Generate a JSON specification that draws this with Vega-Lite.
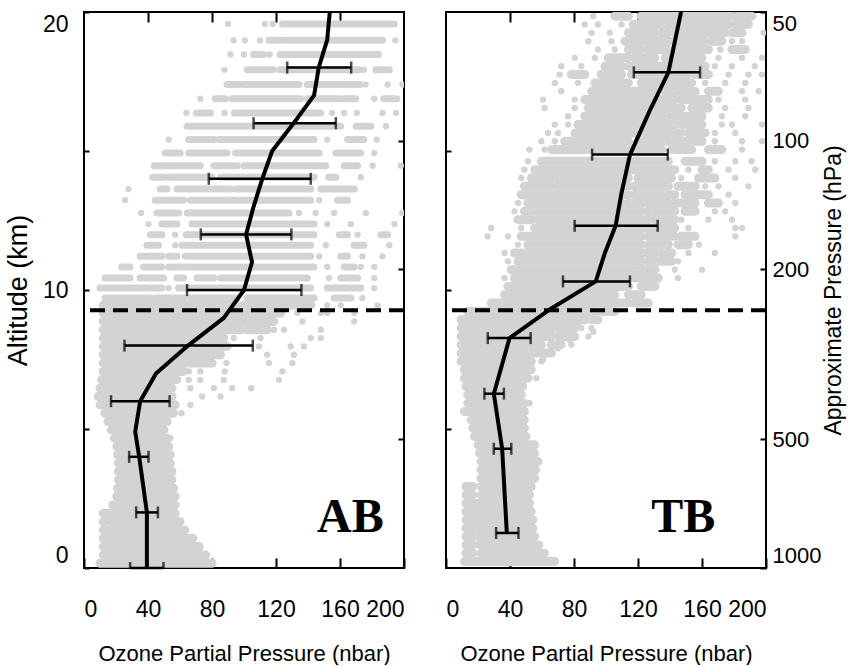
{
"$schema": "https://vega.github.io/schema/vega-lite/v6.json",
"padding": {"left": 3, "top": 8, "right": 0, "bottom": 0},
"background": "white",
"bounds": "flush",
"spacing": 42,
"config": {
  "view": {"stroke": "black", "strokeWidth": 2},
  "axis": {"domain": false, "grid": false, "tickColor": "black", "tickWidth": 2, "labelColor": "black", "titleColor": "black", "titleFontWeight": "normal", "labelFont": "Liberation Sans, Arial", "titleFont": "Liberation Sans, Arial", "labelFontSize": 23, "titleFontSize": 22, "labelOverlap": false}
},
"datasets": {
"abRows": [
{"z":19.57,"a":124,"b":194},
{"z":18.98,"a":115.6,"b":122.9},{"z":18.98,"a":125.4,"b":186.6},
{"z":18.47,"a":106,"b":112.4},{"z":18.47,"a":122.5,"b":184},
{"z":17.92,"a":102,"b":118.3},{"z":17.92,"a":122.5,"b":172},{"z":17.92,"a":182.4,"b":190.8},
{"z":17.39,"a":89.4,"b":97.4},{"z":17.39,"a":99.9,"b":134.4},{"z":17.39,"a":139.6,"b":172.6},
{"z":16.88,"a":82.1,"b":88.4},{"z":16.88,"a":92.6,"b":135.4},{"z":16.88,"a":139.6,"b":159.5},{"z":16.88,"a":162.6,"b":169.9},{"z":16.88,"a":187.3,"b":195.6},
{"z":16.37,"a":70.2,"b":79},{"z":16.37,"a":94,"b":148},
{"z":15.89,"a":64.4,"b":160.5},{"z":15.89,"a":170,"b":179.3},
{"z":15.41,"a":65.4,"b":81.1},{"z":15.41,"a":84.2,"b":143.8},{"z":15.41,"a":164.7,"b":175},
{"z":14.93,"a":50.8,"b":60.2},{"z":14.93,"a":65.4,"b":89.4},{"z":14.93,"a":94.7,"b":147},{"z":14.93,"a":157.4,"b":173},
{"z":14.47,"a":43.9,"b":72.7},{"z":14.47,"a":81.1,"b":95.7},{"z":14.47,"a":99.9,"b":120.8},{"z":14.47,"a":122.9,"b":151.1},{"z":14.47,"a":162.6,"b":171},
{"z":14.06,"a":43,"b":50.8},{"z":14.06,"a":53.9,"b":80},{"z":14.06,"a":85.3,"b":143.8},{"z":14.06,"a":153,"b":157.4},
{"z":13.63,"a":47.6,"b":51.8},{"z":13.63,"a":58.1,"b":91.5},{"z":13.63,"a":94.7,"b":141.7},{"z":13.63,"a":148,"b":168.9},
{"z":13.23,"a":44.5,"b":62.3},{"z":13.23,"a":66.5,"b":141.7},{"z":13.23,"a":158.4,"b":164.7},
{"z":12.77,"a":45.6,"b":59.1},{"z":12.77,"a":64.4,"b":128.1},
{"z":12.37,"a":48.7,"b":58.1},{"z":12.37,"a":67.5,"b":143.8},
{"z":11.99,"a":41.4,"b":48.7},{"z":11.99,"a":64,"b":143.8},{"z":11.99,"a":159.5,"b":164.7},{"z":11.99,"a":185.6,"b":189.8},
{"z":11.61,"a":39.3,"b":46.6},{"z":11.61,"a":61.2,"b":141.7},{"z":11.61,"a":168.9,"b":175},
{"z":11.21,"a":35.1,"b":48.7},{"z":11.21,"a":52.9,"b":58.1},{"z":11.21,"a":63.3,"b":141.7},{"z":11.21,"a":160.5,"b":164.7},
{"z":10.83,"a":23.6,"b":28.8},{"z":10.83,"a":37.2,"b":48.7},{"z":10.83,"a":52.9,"b":62.3},{"z":10.83,"a":64.4,"b":143.8},{"z":10.83,"a":162.6,"b":168.9},
{"z":10.43,"a":13.2,"b":28.8},{"z":10.43,"a":35.1,"b":49.7},{"z":10.43,"a":58.1,"b":62.3},{"z":10.43,"a":70.6,"b":81.1},{"z":10.43,"a":85.3,"b":139.6},{"z":10.43,"a":160.5,"b":171},
{"z":10.07,"a":10,"b":39.3},{"z":10.07,"a":42.4,"b":48.7},{"z":10.07,"a":59.1,"b":66.5},{"z":10.07,"a":68.5,"b":141.7},{"z":10.07,"a":152.1,"b":164.7},{"z":10.07,"a":167.8,"b":173},
{"z":9.71,"a":13.2,"b":41.4},{"z":9.71,"a":44.5,"b":62.3},{"z":9.71,"a":66.5,"b":95.7},{"z":9.71,"a":102,"b":143.8},{"z":9.71,"a":156.3,"b":166.8}
],
"abBand": [
{"z":9.45,"a":12,"b":95.7},{"z":9.45,"a":99.9,"b":141.7},
{"z":9.17,"a":12,"b":122.9},
{"z":8.87,"a":12,"b":118.7},
{"z":8.57,"a":12,"b":97.8},{"z":8.57,"a":102,"b":114.5},
{"z":8.27,"a":12,"b":87.4},
{"z":7.97,"a":12,"b":89.4},
{"z":7.67,"a":12,"b":85.3},
{"z":7.37,"a":12,"b":80},
{"z":7.07,"a":12,"b":62},
{"z":6.77,"a":11,"b":58},
{"z":6.47,"a":10,"b":55},
{"z":6.17,"a":9,"b":55},
{"z":5.87,"a":10,"b":57},
{"z":5.57,"a":13,"b":56},
{"z":5.27,"a":15,"b":52},
{"z":4.97,"a":17,"b":50},
{"z":4.67,"a":19,"b":52},
{"z":4.37,"a":20.5,"b":53},
{"z":4.07,"a":21,"b":54},
{"z":3.77,"a":21.5,"b":54},
{"z":3.47,"a":21.5,"b":55},
{"z":3.17,"a":21.5,"b":55},
{"z":2.87,"a":21,"b":56},
{"z":2.57,"a":20.5,"b":57},
{"z":2.27,"a":18,"b":57},
{"z":1.97,"a":12,"b":14},{"z":1.97,"a":16.3,"b":57},
{"z":1.67,"a":12,"b":14},{"z":1.67,"a":17,"b":60},
{"z":1.37,"a":12,"b":14},{"z":1.37,"a":17,"b":63},
{"z":1.07,"a":12,"b":14},{"z":1.07,"a":16.5,"b":68},
{"z":0.77,"a":12,"b":14},{"z":0.77,"a":16,"b":72},
{"z":0.47,"a":12,"b":14},{"z":0.47,"a":16,"b":76},
{"z":0.17,"a":10,"b":80}
],
"abDots": [
{"z":19.57,"x":90},{"z":19.57,"x":113},{"z":19.57,"x":118},
{"z":18.98,"x":93.6},{"z":18.98,"x":100.5},{"z":18.98,"x":110},{"z":18.98,"x":194.6},
{"z":18.47,"x":91.5},{"z":18.47,"x":99.9},{"z":18.47,"x":116},
{"z":17.92,"x":87.8},{"z":17.92,"x":175},
{"z":17.39,"x":176},{"z":17.39,"x":189.8},{"z":17.39,"x":199},
{"z":16.88,"x":72.7},{"z":16.88,"x":181.4},
{"z":16.37,"x":64},{"z":16.37,"x":87.8},{"z":16.37,"x":155},{"z":16.37,"x":162.6},{"z":16.37,"x":170.5},{"z":16.37,"x":186.6},{"z":16.37,"x":195},
{"z":15.89,"x":188.7},
{"z":15.41,"x":52.9},{"z":15.41,"x":152},{"z":15.41,"x":183},
{"z":14.93,"x":181.4},
{"z":14.47,"x":180.4},{"z":14.47,"x":198},
{"z":14.06,"x":173},
{"z":13.63,"x":27.8},
{"z":13.23,"x":25.7},{"z":13.23,"x":147},
{"z":12.77,"x":35.7},{"z":12.77,"x":134.4},{"z":12.77,"x":144.8},{"z":12.77,"x":156.3},{"z":12.77,"x":176.2},{"z":12.77,"x":199},
{"z":12.37,"x":40.3},{"z":12.37,"x":152.1},{"z":12.37,"x":166.8},{"z":12.37,"x":194},
{"z":11.99,"x":57},{"z":11.99,"x":171},
{"z":11.61,"x":57},{"z":11.61,"x":151.1},{"z":11.61,"x":190.8},
{"z":11.21,"x":147},{"z":11.21,"x":174},{"z":11.21,"x":186.6},
{"z":10.83,"x":152},{"z":10.83,"x":173},{"z":10.83,"x":181.4},
{"z":10.43,"x":153.2},{"z":10.43,"x":181.4},
{"z":10.07,"x":52.9},{"z":10.07,"x":181.4},
{"z":9.71,"x":174},
{"z":9.45,"x":152},{"z":9.45,"x":160.5},{"z":9.45,"x":183.5},
{"z":9.17,"x":133.3},{"z":9.17,"x":148},{"z":9.17,"x":152},{"z":9.17,"x":169},
{"z":8.87,"x":136.5},{"z":8.87,"x":168.9},
{"z":8.57,"x":118.7},{"z":8.57,"x":125},{"z":8.57,"x":148},
{"z":8.27,"x":93.6},{"z":8.27,"x":110.3},{"z":8.27,"x":141.7},{"z":8.27,"x":148},
{"z":7.97,"x":109.3},{"z":7.97,"x":129.2},{"z":7.97,"x":137.5},
{"z":7.67,"x":114.5},{"z":7.67,"x":131.2},
{"z":7.37,"x":89},{"z":7.37,"x":115.6},{"z":7.37,"x":130.2},
{"z":7.07,"x":65.5},{"z":7.07,"x":72.7},{"z":7.07,"x":88},{"z":7.07,"x":124},
{"z":6.77,"x":65.4},{"z":6.77,"x":72.7},{"z":6.77,"x":87.4},{"z":6.77,"x":121.8},
{"z":6.47,"x":66.5},{"z":6.47,"x":81.1},{"z":6.47,"x":92.6},{"z":6.47,"x":104.5},
{"z":6.17,"x":73.8},{"z":6.17,"x":85.3},
{"z":5.87,"x":66.5},
{"z":5.57,"x":61},
{"z":4.67,"x":54}
],
"abMean": [
{"z":0,"x":39.3},{"z":2,"x":39.3},{"z":4,"x":34.5},{"z":4.9,"x":32},{"z":6,"x":35.1},{"z":7,"x":45},{"z":7.5,"x":55},{"z":8,"x":65},{"z":9,"x":87.4},{"z":10,"x":100},{"z":11,"x":105},{"z":12,"x":101.3},{"z":13,"x":106},{"z":14,"x":111.4},{"z":15,"x":117.6},{"z":16,"x":131},{"z":17,"x":143.8},{"z":18,"x":146.7},{"z":19,"x":152},{"z":20,"x":153.6}
],
"abErr": [
{"z":0,"lo":28.8,"hi":49.7},{"z":2,"lo":32.6,"hi":46.2},{"z":4,"lo":28.2,"hi":40.3},{"z":6,"lo":16.9,"hi":53.5},{"z":8,"lo":25.3,"hi":105.5},{"z":10,"lo":64.4,"hi":135.9},{"z":12,"lo":73,"hi":129.6},{"z":14,"lo":78,"hi":141.7},{"z":16,"lo":106,"hi":157.4},{"z":18,"lo":127,"hi":167}
],
"tbBand": [
{"z":19.85,"a":105.5,"b":114},{"z":19.85,"a":122,"b":178.7},{"z":19.85,"a":182,"b":191},
{"z":19.55,"a":117,"b":143},{"z":19.55,"a":147,"b":176.6},{"z":19.55,"a":180.8,"b":189},
{"z":19.25,"a":114,"b":130.6},{"z":19.25,"a":134.8,"b":139},{"z":19.25,"a":143,"b":174.5},{"z":19.25,"a":178.7,"b":185},
{"z":18.95,"a":111.8,"b":139},{"z":18.95,"a":142,"b":162},{"z":18.95,"a":166,"b":172.4},
{"z":18.65,"a":114,"b":122},{"z":18.65,"a":126.4,"b":139},{"z":18.65,"a":143,"b":164},{"z":18.65,"a":178.7,"b":187},
{"z":18.35,"a":101.4,"b":114},{"z":18.35,"a":118,"b":130.6},{"z":18.35,"a":137,"b":160},
{"z":18.05,"a":99.3,"b":109.7},{"z":18.05,"a":114,"b":139},{"z":18.05,"a":143,"b":162},
{"z":17.75,"a":78.4,"b":86.7},{"z":17.75,"a":97,"b":109.7},{"z":17.75,"a":116,"b":151.5},{"z":17.75,"a":155.7,"b":164},
{"z":17.45,"a":93,"b":114},{"z":17.45,"a":122,"b":130.6},{"z":17.45,"a":132.7,"b":153.6},
{"z":17.15,"a":91,"b":105.5},{"z":17.15,"a":107.6,"b":130.6},{"z":17.15,"a":137,"b":155.7},{"z":17.15,"a":164,"b":170.3},
{"z":16.85,"a":86.7,"b":95},{"z":16.85,"a":97,"b":143},{"z":16.85,"a":147,"b":164},
{"z":16.55,"a":88.8,"b":95},{"z":16.55,"a":97,"b":126.4},{"z":16.55,"a":130.6,"b":147},{"z":16.55,"a":153.6,"b":164},
{"z":16.25,"a":86.7,"b":139},{"z":16.25,"a":143,"b":160},
{"z":15.95,"a":82.5,"b":120},{"z":15.95,"a":122,"b":143},{"z":15.95,"a":147,"b":160},
{"z":15.65,"a":80.5,"b":118},{"z":15.65,"a":122,"b":147},{"z":15.65,"a":151.5,"b":162},
{"z":15.35,"a":74.2,"b":114},{"z":15.35,"a":120,"b":139},{"z":15.35,"a":143,"b":160},
{"z":15.05,"a":66,"b":111.8},{"z":15.05,"a":116,"b":134.8},{"z":15.05,"a":141,"b":153.6},{"z":15.05,"a":164,"b":172.4},
{"z":14.63,"a":59.6,"b":114},{"z":14.63,"a":118,"b":139},{"z":14.63,"a":149.4,"b":160},
{"z":14.33,"a":55.4,"b":111.8},{"z":14.33,"a":114,"b":143},{"z":14.33,"a":160,"b":164},
{"z":14.03,"a":53.3,"b":114},{"z":14.03,"a":120,"b":141},{"z":14.03,"a":157.8,"b":168},
{"z":13.73,"a":49,"b":65.8},{"z":13.73,"a":70,"b":114},{"z":13.73,"a":118,"b":139},{"z":13.73,"a":145,"b":155.7},
{"z":13.43,"a":47,"b":57.5},{"z":13.43,"a":59.6,"b":114},{"z":13.43,"a":118,"b":143},{"z":13.43,"a":149.4,"b":164},
{"z":13.13,"a":51.2,"b":109.7},{"z":13.13,"a":114,"b":139},{"z":13.13,"a":143,"b":155.7},{"z":13.13,"a":164,"b":170.3},
{"z":12.83,"a":49,"b":122},{"z":12.83,"a":126.4,"b":143},{"z":12.83,"a":149.4,"b":155.7},
{"z":12.53,"a":45,"b":53.3},{"z":12.53,"a":57.5,"b":126.4},{"z":12.53,"a":130.6,"b":143},
{"z":12.23,"a":55.4,"b":130.6},{"z":12.23,"a":134.8,"b":143},
{"z":11.93,"a":47,"b":122},{"z":11.93,"a":126.4,"b":143},{"z":11.93,"a":147,"b":155.7},
{"z":11.63,"a":51.2,"b":122},{"z":11.63,"a":126.4,"b":139},{"z":11.63,"a":145,"b":151.5},
{"z":11.33,"a":42.8,"b":130.6},{"z":11.33,"a":134.8,"b":141},
{"z":11.03,"a":45,"b":122},{"z":11.03,"a":126.4,"b":141},
{"z":10.73,"a":40.7,"b":118},{"z":10.73,"a":122,"b":130.6},
{"z":10.43,"a":42.8,"b":114},{"z":10.43,"a":118,"b":132.7},
{"z":10.13,"a":38.7,"b":114},{"z":10.13,"a":122,"b":130.6},
{"z":9.83,"a":36.6,"b":105.5},{"z":9.83,"a":114,"b":122},
{"z":9.53,"a":28.2,"b":114},{"z":9.53,"a":118,"b":126.4},
{"z":9.23,"a":13.6,"b":93},{"z":9.23,"a":97,"b":105.5},
{"z":8.93,"a":9.4,"b":86.7},{"z":8.93,"a":91,"b":95},
{"z":8.63,"a":9.4,"b":80.5},
{"z":8.33,"a":9.4,"b":65.8},{"z":8.33,"a":70,"b":80.5},
{"z":8.03,"a":9.4,"b":59.6},{"z":8.03,"a":65.8,"b":72},
{"z":7.73,"a":9.4,"b":57.5},{"z":7.73,"a":59.6,"b":65.8},
{"z":7.43,"a":9.4,"b":53.3},
{"z":7.13,"a":11.5,"b":53.3},
{"z":6.83,"a":11.5,"b":51.2},
{"z":6.53,"a":12.5,"b":48},
{"z":6.23,"a":13.6,"b":47},
{"z":5.93,"a":13.6,"b":49},
{"z":5.63,"a":11.5,"b":49},
{"z":5.33,"a":15.7,"b":49},
{"z":5.03,"a":16.7,"b":49},
{"z":4.73,"a":17.8,"b":50},
{"z":4.43,"a":20,"b":55.4},
{"z":4.13,"a":20.9,"b":55.4},
{"z":3.83,"a":21.9,"b":57.5},
{"z":3.53,"a":21.9,"b":56},
{"z":3.23,"a":21.9,"b":55.4},
{"z":2.93,"a":12.5,"b":16.7},{"z":2.93,"a":21.9,"b":53.3},
{"z":2.63,"a":12.5,"b":16.7},{"z":2.63,"a":21.9,"b":52.2},
{"z":2.33,"a":12.5,"b":16.7},{"z":2.33,"a":19.9,"b":52.2},
{"z":2.03,"a":12.5,"b":16.7},{"z":2.03,"a":18.8,"b":53.3},
{"z":1.73,"a":12.5,"b":16.7},{"z":1.73,"a":18.8,"b":54.3},
{"z":1.43,"a":12.5,"b":16.7},{"z":1.43,"a":18.8,"b":54.3},
{"z":1.13,"a":12.5,"b":16.7},{"z":1.13,"a":20,"b":55.4},
{"z":0.83,"a":12.5,"b":16.7},{"z":0.83,"a":21,"b":58},
{"z":0.53,"a":12.5,"b":16.7},{"z":0.53,"a":21.9,"b":61.6},
{"z":0.23,"a":11.5,"b":67.9}
],
"tbDots": [
{"z":19.85,"x":92},
{"z":19.55,"x":86.7},{"z":19.55,"x":95},{"z":19.55,"x":109.7},
{"z":19.25,"x":91},{"z":19.25,"x":102.4},{"z":19.25,"x":198.5},
{"z":18.95,"x":89},{"z":18.95,"x":103.4},{"z":18.95,"x":178.7},{"z":18.95,"x":185},
{"z":18.65,"x":95},{"z":18.65,"x":105.5},{"z":18.65,"x":171.4},
{"z":18.35,"x":80.5},{"z":18.35,"x":93},{"z":18.35,"x":170.3},{"z":18.35,"x":185},{"z":18.35,"x":197.5},
{"z":18.05,"x":72},{"z":18.05,"x":84.6},{"z":18.05,"x":168},{"z":18.05,"x":178.7},{"z":18.05,"x":193},
{"z":17.75,"x":71},{"z":17.75,"x":176.6},{"z":17.75,"x":189},{"z":17.75,"x":197.5},
{"z":17.45,"x":68},{"z":17.45,"x":82.5},{"z":17.45,"x":162},{"z":17.45,"x":174.5},{"z":17.45,"x":187},
{"z":17.15,"x":72},{"z":17.15,"x":185},{"z":17.15,"x":195.4},
{"z":16.85,"x":60.6},{"z":16.85,"x":80.5},{"z":16.85,"x":170.3},{"z":16.85,"x":187},
{"z":16.55,"x":61.6},{"z":16.55,"x":80.5},{"z":16.55,"x":174.5},{"z":16.55,"x":189},
{"z":16.25,"x":76.3},{"z":16.25,"x":172.4},{"z":16.25,"x":187},
{"z":15.95,"x":68},{"z":15.95,"x":76.3},{"z":15.95,"x":172.4},{"z":15.95,"x":178.7},{"z":15.95,"x":197.5},
{"z":15.65,"x":63.7},{"z":15.65,"x":70},{"z":15.65,"x":168},{"z":15.65,"x":180.8},
{"z":15.35,"x":59.6},{"z":15.35,"x":68},{"z":15.35,"x":168},{"z":15.35,"x":185},{"z":15.35,"x":197.5},
{"z":15.05,"x":52.2},{"z":15.05,"x":61.6},{"z":15.05,"x":185},
{"z":14.63,"x":51.2},{"z":14.63,"x":168},{"z":14.63,"x":180.8},{"z":14.63,"x":191},
{"z":14.33,"x":49},{"z":14.33,"x":151.5},{"z":14.33,"x":176.6},{"z":14.33,"x":193.3},
{"z":14.03,"x":47},{"z":14.03,"x":147},{"z":14.03,"x":180.8},
{"z":13.73,"x":162},{"z":13.73,"x":170.3},{"z":13.73,"x":189},
{"z":13.43,"x":176.6},
{"z":13.13,"x":45},{"z":13.13,"x":180.8},
{"z":12.83,"x":42.8},{"z":12.83,"x":168},{"z":12.83,"x":174.5},
{"z":12.53,"x":147},{"z":12.53,"x":164},{"z":12.53,"x":178.7},
{"z":12.23,"x":28.2},{"z":12.23,"x":47},{"z":12.23,"x":151.5},{"z":12.23,"x":180.8},{"z":12.23,"x":185},
{"z":11.93,"x":26},{"z":11.93,"x":38.7},{"z":11.93,"x":180.8},
{"z":11.63,"x":45},{"z":11.63,"x":158},
{"z":11.33,"x":36.6},{"z":11.33,"x":151.5},{"z":11.33,"x":168},
{"z":11.03,"x":38.7},{"z":11.03,"x":145},
{"z":10.73,"x":143},{"z":10.73,"x":160},
{"z":10.43,"x":36.6},{"z":10.43,"x":145},
{"z":8.75,"x":82.5},
{"z":8.63,"x":84.6},{"z":8.63,"x":91},
{"z":8.5,"x":65.8},{"z":8.5,"x":92},
{"z":8.33,"x":89},
{"z":8.2,"x":77.3},
{"z":8.03,"x":78.4},
{"z":7.9,"x":70},
{"z":7.5,"x":60.6},
{"z":7.43,"x":59.6},
{"z":6.83,"x":56.4},
{"z":5.93,"x":52.2}
],
"tbMean": [
{"z":1.26,"x":38},{"z":4.29,"x":35.1},{"z":6.27,"x":29.9},{"z":8.27,"x":39.7},{"z":9.27,"x":64},{"z":10.31,"x":93.6},{"z":11.33,"x":99.3},{"z":12.31,"x":106},{"z":13.49,"x":109.7},{"z":14.87,"x":115},{"z":16.47,"x":127.5},{"z":17.83,"x":139},{"z":20,"x":146.9}
],
"tbErr": [
{"z":1.26,"lo":31.3,"hi":45.3},{"z":4.29,"lo":29.9,"hi":40.8},{"z":6.27,"lo":24,"hi":36.2},{"z":8.27,"lo":26.1,"hi":52.9},{"z":10.31,"lo":73.1,"hi":115},{"z":12.31,"lo":80.4,"hi":132.3},{"z":14.87,"lo":91.3,"hi":138.6},{"z":17.83,"lo":117.4,"hi":158.8}
]
},
"hconcat": [
  {
    "width": 320, "height": 556,
    "resolve": {"scale": {"y": "independent"}, "axis": {"x": "independent", "y": "independent"}},
    "layer": [
      {"data": {"name": "abBand"}, "mark": {"type": "rule", "color": "#d3d3d3", "strokeWidth": 9, "strokeCap": "round", "clip": true},
       "encoding": {
         "x": {"field": "a", "type": "quantitative", "scale": {"domain": [0, 200], "nice": false},
               "axis": {"orient": "bottom", "values": [0, 40, 80, 120, 160, 200], "tickSize": -10, "labelPadding": 40, "title": "Ozone Partial Pressure (nbar)", "titlePadding": 22}},
         "x2": {"field": "b"},
         "y": {"field": "z", "type": "quantitative", "scale": {"domain": [0, 20], "nice": false},
               "axis": {"orient": "left", "values": [0, 5, 10, 15, 20], "tickSize": -5, "labelPadding": 21, "labelFlush": true, "labelFlushOffset": -1, "labelExpr": "datum.value % 10 === 0 ? datum.label : ''", "title": "Altitude (km)", "titleFontSize": 27, "titlePadding": 10}}
       }},
      {"data": {"name": "abRows"}, "mark": {"type": "rule", "color": "#d3d3d3", "strokeWidth": 7, "strokeCap": "round", "clip": true},
       "encoding": {
         "x": {"field": "a", "type": "quantitative", "scale": {"domain": [0, 200], "nice": false}, "axis": null},
         "x2": {"field": "b"},
         "y": {"field": "z", "type": "quantitative", "scale": {"domain": [0, 20], "nice": false}, "axis": null}
       }},
      {"data": {"name": "abDots"}, "mark": {"type": "point", "filled": true, "color": "#d3d3d3", "opacity": 1, "size": 40, "clip": true},
       "encoding": {
         "x": {"field": "x", "type": "quantitative", "scale": {"domain": [0, 200], "nice": false}, "axis": null},
         "y": {"field": "z", "type": "quantitative", "scale": {"domain": [0, 20], "nice": false}, "axis": null}
       }},
      {"data": {"values": [{}]}, "mark": {"type": "rule", "color": "black", "strokeWidth": 4, "strokeDash": [15, 8]},
       "encoding": {"y": {"datum": 9.27, "type": "quantitative", "scale": {"domain": [0, 20], "nice": false}, "axis": null}}},
      {"data": {"name": "abErr"}, "mark": {"type": "rule", "color": "black", "strokeWidth": 2.5},
       "encoding": {
         "x": {"field": "lo", "type": "quantitative", "scale": {"domain": [0, 200], "nice": false}, "axis": null},
         "x2": {"field": "hi"},
         "y": {"field": "z", "type": "quantitative", "scale": {"domain": [0, 20], "nice": false}, "axis": null}
       }},
      {"data": {"name": "abErr"}, "mark": {"type": "tick", "orient": "vertical", "color": "black", "size": 12, "thickness": 2.5, "clip": true},
       "encoding": {
         "x": {"field": "lo", "type": "quantitative", "scale": {"domain": [0, 200], "nice": false}, "axis": null},
         "y": {"field": "z", "type": "quantitative", "scale": {"domain": [0, 20], "nice": false}, "axis": null}
       }},
      {"data": {"name": "abErr"}, "mark": {"type": "tick", "orient": "vertical", "color": "black", "size": 12, "thickness": 2.5, "clip": true},
       "encoding": {
         "x": {"field": "hi", "type": "quantitative", "scale": {"domain": [0, 200], "nice": false}, "axis": null},
         "y": {"field": "z", "type": "quantitative", "scale": {"domain": [0, 20], "nice": false}, "axis": null}
       }},
      {"data": {"name": "abMean"}, "mark": {"type": "line", "color": "black", "strokeWidth": 4, "strokeJoin": "round", "clip": true},
       "encoding": {
         "x": {"field": "x", "type": "quantitative", "scale": {"domain": [0, 200], "nice": false}, "axis": null},
         "y": {"field": "z", "type": "quantitative", "scale": {"domain": [0, 20], "nice": false}, "axis": null},
         "order": {"field": "z", "type": "quantitative"}
       }},
      {"data": {"values": [{"label": "AB"}]}, "mark": {"type": "text", "font": "Liberation Serif, Times New Roman", "fontWeight": "bold", "fontSize": 48, "align": "center", "baseline": "alphabetic", "color": "black"},
       "encoding": {
         "x": {"datum": 166.5, "type": "quantitative", "scale": {"domain": [0, 200], "nice": false}, "axis": null},
         "y": {"datum": 1.3, "type": "quantitative", "scale": {"domain": [0, 20], "nice": false}, "axis": null},
         "text": {"field": "label"}
       }},
      {"data": {"values": [{"p": 50}, {"p": 1000}]}, "mark": {"type": "point", "opacity": 0},
       "encoding": {
         "x": {"datum": 100, "type": "quantitative", "scale": {"domain": [0, 200], "nice": false},
               "axis": {"orient": "top", "values": [40, 80, 120, 160], "tickSize": -10, "labels": false, "title": null}},
         "y": {"field": "p", "type": "quantitative", "scale": {"type": "log", "domain": [50, 1000], "reverse": true, "nice": false},
               "axis": {"orient": "right", "values": [100, 200, 500], "tickSize": -6, "labels": false, "title": null}}
       }}
    ]
  },
  {
    "width": 320, "height": 556,
    "resolve": {"scale": {"y": "independent"}, "axis": {"x": "independent", "y": "independent"}},
    "layer": [
      {"data": {"name": "tbBand"}, "mark": {"type": "rule", "color": "#d3d3d3", "strokeWidth": 9, "strokeCap": "round", "clip": true},
       "encoding": {
         "x": {"field": "a", "type": "quantitative", "scale": {"domain": [0, 200], "nice": false},
               "axis": {"orient": "bottom", "values": [0, 40, 80, 120, 160, 200], "tickSize": -10, "labelPadding": 40, "title": "Ozone Partial Pressure (nbar)", "titlePadding": 22}},
         "x2": {"field": "b"},
         "y": {"field": "z", "type": "quantitative", "scale": {"domain": [0, 20], "nice": false},
               "axis": {"orient": "left", "values": [5, 10, 15], "tickSize": -5, "labels": false, "title": null}}
       }},
      {"data": {"name": "tbDots"}, "mark": {"type": "point", "filled": true, "color": "#d3d3d3", "opacity": 1, "size": 40, "clip": true},
       "encoding": {
         "x": {"field": "x", "type": "quantitative", "scale": {"domain": [0, 200], "nice": false}, "axis": null},
         "y": {"field": "z", "type": "quantitative", "scale": {"domain": [0, 20], "nice": false}, "axis": null}
       }},
      {"data": {"values": [{}]}, "mark": {"type": "rule", "color": "black", "strokeWidth": 4, "strokeDash": [15, 8]},
       "encoding": {"y": {"datum": 9.27, "type": "quantitative", "scale": {"domain": [0, 20], "nice": false}, "axis": null}}},
      {"data": {"name": "tbErr"}, "mark": {"type": "rule", "color": "black", "strokeWidth": 2.5},
       "encoding": {
         "x": {"field": "lo", "type": "quantitative", "scale": {"domain": [0, 200], "nice": false}, "axis": null},
         "x2": {"field": "hi"},
         "y": {"field": "z", "type": "quantitative", "scale": {"domain": [0, 20], "nice": false}, "axis": null}
       }},
      {"data": {"name": "tbErr"}, "mark": {"type": "tick", "orient": "vertical", "color": "black", "size": 12, "thickness": 2.5},
       "encoding": {
         "x": {"field": "lo", "type": "quantitative", "scale": {"domain": [0, 200], "nice": false}, "axis": null},
         "y": {"field": "z", "type": "quantitative", "scale": {"domain": [0, 20], "nice": false}, "axis": null}
       }},
      {"data": {"name": "tbErr"}, "mark": {"type": "tick", "orient": "vertical", "color": "black", "size": 12, "thickness": 2.5},
       "encoding": {
         "x": {"field": "hi", "type": "quantitative", "scale": {"domain": [0, 200], "nice": false}, "axis": null},
         "y": {"field": "z", "type": "quantitative", "scale": {"domain": [0, 20], "nice": false}, "axis": null}
       }},
      {"data": {"name": "tbMean"}, "mark": {"type": "line", "color": "black", "strokeWidth": 4, "strokeJoin": "round", "clip": true},
       "encoding": {
         "x": {"field": "x", "type": "quantitative", "scale": {"domain": [0, 200], "nice": false}, "axis": null},
         "y": {"field": "z", "type": "quantitative", "scale": {"domain": [0, 20], "nice": false}, "axis": null},
         "order": {"field": "z", "type": "quantitative"}
       }},
      {"data": {"values": [{"label": "TB"}]}, "mark": {"type": "text", "font": "Liberation Serif, Times New Roman", "fontWeight": "bold", "fontSize": 48, "align": "center", "baseline": "alphabetic", "color": "black"},
       "encoding": {
         "x": {"datum": 148.3, "type": "quantitative", "scale": {"domain": [0, 200], "nice": false}, "axis": null},
         "y": {"datum": 1.3, "type": "quantitative", "scale": {"domain": [0, 20], "nice": false}, "axis": null},
         "text": {"field": "label"}
       }},
      {"data": {"values": [{"p": 50}, {"p": 1000}]}, "mark": {"type": "point", "opacity": 0},
       "encoding": {
         "x": {"datum": 100, "type": "quantitative", "scale": {"domain": [0, 200], "nice": false},
               "axis": {"orient": "top", "values": [40, 80, 120, 160], "tickSize": -10, "labels": false, "title": null}},
         "y": {"field": "p", "type": "quantitative", "scale": {"type": "log", "domain": [50, 1000], "reverse": true, "nice": false},
               "axis": {"orient": "right", "values": [50, 100, 200, 500, 1000], "format": "d", "tickSize": -6, "labelPadding": 12, "labelFontSize": 22, "labelFlush": true, "labelFlushOffset": -1, "title": "Approximate Pressure (hPa)", "titleFontSize": 23, "titleAngle": 270, "titleBaseline": "top", "titlePadding": 2}}
       }}
    ]
  }
]
}
